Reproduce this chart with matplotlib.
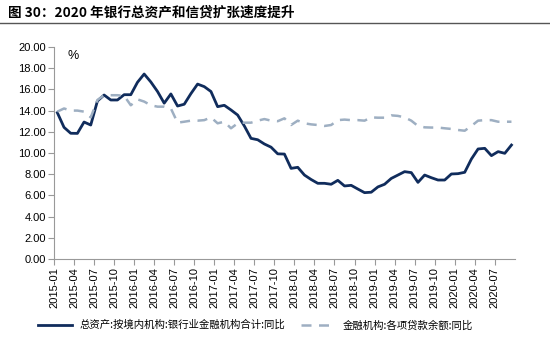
import matplotlib.pyplot as plt
import numpy as np

plt.rcParams['font.family'] = ['Liberation Sans', 'Noto Sans CJK SC', 'DejaVu Sans']

# monthly categories 2015-01 .. 2020-09
months = [f"{y}-{m:02d}" for y in range(2015, 2021) for m in range(1, 13)][:69]

# 总资产:境内金融机构:银行业金融机构合计:同比
assets = [13.8, 12.42, 11.86, 11.85, 12.92, 12.64, 14.9, 15.47, 15.0, 15.0,
          15.5, 15.5, 16.67, 17.45, 16.7, 15.8, 14.7, 15.57, 14.43, 14.6,
          15.6, 16.5, 16.26, 15.8, 14.37, 14.5, 14.06, 13.58, 12.55, 11.38,
          11.25, 10.85, 10.55, 9.92, 9.9, 8.55, 8.65, 7.92, 7.5, 7.14,
          7.14, 7.05, 7.42, 6.89, 6.95, 6.6, 6.26, 6.3, 6.8, 7.05,
          7.6, 7.92, 8.24, 8.15, 7.23, 7.92, 7.67, 7.45, 7.45, 8.02,
          8.05, 8.18, 9.43, 10.38, 10.44, 9.75, 10.13, 9.97, 10.75]

# 金融机构:各项贷款余额:同比
loans = [13.9, 14.2, 14.0, 14.0, 13.9, 13.36, 15.0, 15.45, 15.45, 15.45,
         15.4, 14.5, 15.06, 14.85, 14.5, 14.37, 14.37, 14.2, 12.86, 12.95,
         13.05, 13.05, 13.1, 13.36, 12.8, 12.95, 12.33, 12.8, 12.86, 12.86,
         13.05, 13.2, 13.05, 13.0, 13.27, 12.64, 13.05, 12.8, 12.7, 12.64,
         12.55, 12.64, 13.1, 13.15, 13.1, 13.1, 13.05, 13.36, 13.33, 13.33,
         13.55, 13.5, 13.36, 13.05, 12.55, 12.42, 12.4, 12.4, 12.33, 12.27,
         12.17, 12.1, 12.55, 13.05, 13.1, 13.1, 12.95, 12.95, 12.95]

labels_assets = "总资产:按境内机构:银行业金融机构合计:同比"
labels_loans = "金融机构:各项贷款余额:同比"

fig = plt.figure(figsize=(5.5, 3.38), dpi=100)
ax = fig.add_axes([0.0982, 0.2337, 0.8378, 0.6273])

x = np.arange(len(months)) + 0.5
ax.plot(x, assets, color='#102c5c', lw=2.0, label=labels_assets)
ax.plot(x, loans, color='#9eafc2', lw=1.8, ls=(0, (4, 3)), label=labels_loans)

ax.set_xlim(0, 69)
ax.set_ylim(0, 20)
ax.set_yticks(np.arange(0, 21, 2))
ax.set_yticklabels([f"{v:.2f}" for v in np.arange(0, 21, 2)], fontsize=8)
ax.set_xticks(np.arange(0, 69, 3))
ax.set_xticklabels(months[::3], rotation=90, fontsize=8)

for s in ['top', 'right']:
    ax.spines[s].set_visible(False)
for s in ['left', 'bottom']:
    ax.spines[s].set_color('#999999')
ax.tick_params(axis='both', color='#999999', length=4, width=0.8, pad=2)

ax.text(0.03, 0.985, '%', transform=ax.transAxes, fontsize=9, va='top')

# title and rule
fig.text(0.015, 0.962, '图 30：2020 年银行总资产和信贷扩张速度提升',
         fontsize=9.8, fontweight='bold', va='center',
         family=['Noto Sans CJK SC', 'DejaVu Sans'])
fig.add_artist(plt.Line2D([0, 1], [0.933, 0.933], color='#555555', lw=1.0))

fig.legend(loc='lower center', bbox_to_anchor=(0.465, -0.005), ncol=2,
           frameon=False, handlelength=3.2, columnspacing=1.5,
           prop={'family': ['Noto Sans CJK SC', 'DejaVu Sans'], 'size': 7.5})

fig.savefig('out.png', dpi=100)
